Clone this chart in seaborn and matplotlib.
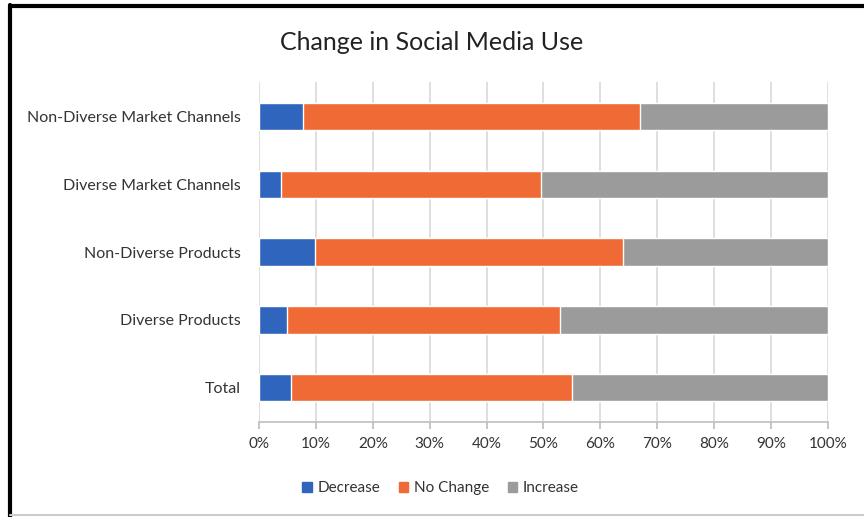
import pandas as pd
import matplotlib.pyplot as plt
import seaborn as sns
from matplotlib.lines import Line2D
from matplotlib.ticker import PercentFormatter

# data (percent of respondents)
categories = ["Non-Diverse Market Channels", "Diverse Market Channels",
              "Non-Diverse Products", "Diverse Products", "Total"]
decrease = [7.8, 3.9, 9.9, 4.9, 5.7]
no_change = [59.2, 45.6, 54.0, 48.0, 49.3]
increase = [33.0, 50.5, 36.1, 47.1, 45.0]
series = ["Decrease", "No Change", "Increase"]
colors = ["#2F65BD", "#EF6A35", "#9B9B9B"]

sns.set_theme(style="white")
plt.rcParams['font.family'] = ['Lato', 'DejaVu Sans']

df = pd.DataFrame({"category": categories, "Decrease": decrease,
                   "No Change": no_change, "Increase": increase})
# cumulative ends so seaborn can draw stacked bars front-to-back
df["c1"] = df["Decrease"]
df["c2"] = df["Decrease"] + df["No Change"]
df["c3"] = df["c2"] + df["Increase"]

fig = plt.figure(figsize=(8.64, 5.17), dpi=100)
ax = fig.add_axes([0.2998, 0.184, 0.6585, 0.657])

for col, c in zip(["c3", "c2", "c1"], colors[::-1]):
    sns.barplot(data=df, x=col, y="category", color=c, width=0.4,
                saturation=1, ax=ax, orient="h", zorder=3)

ax.set_xlim(0, 100)
ax.set_xticks(range(0, 101, 10))
ax.xaxis.set_major_formatter(PercentFormatter(decimals=0))
ax.grid(axis="x", color="#D9D9D9", linewidth=1.2, zorder=0)
ax.set_axisbelow(True)
for s in ["top", "right", "left"]:
    ax.spines[s].set_visible(False)
ax.spines["bottom"].set_color("#BFBFBF")
ax.spines["bottom"].set_linewidth(1.2)
ax.tick_params(axis="x", bottom=True, length=5, color="#BFBFBF", labelsize=11,
               labelcolor="#333333", pad=6)
ax.tick_params(axis="y", left=False, labelsize=11.5, labelcolor="#333333", pad=7)
ax.set_xlabel("")
ax.set_ylabel("")

fig.suptitle("Change in Social Media Use", y=0.94, fontsize=18, color="#222222")

handles = [plt.Rectangle((0, 0), 1, 1, color=c) for c in colors]
fig.legend(handles, series, loc="center", bbox_to_anchor=(0.51, 0.056), ncol=3,
           frameon=False, fontsize=11, handlelength=0.6, handleheight=0.6,
           handletextpad=0.4, columnspacing=1.2, labelcolor="#333333")

# frame like the screenshot
fig.add_artist(Line2D([0.012, 0.012], [0.0, 0.99], transform=fig.transFigure,
                      color="black", linewidth=3))
fig.add_artist(Line2D([0.012, 1.0], [0.988, 0.988], transform=fig.transFigure,
                      color="black", linewidth=3))
fig.add_artist(Line2D([0.012, 1.0], [0.004, 0.004], transform=fig.transFigure,
                      color="#CCCCCC", linewidth=1.5))

fig.savefig("out.png", dpi=100)
